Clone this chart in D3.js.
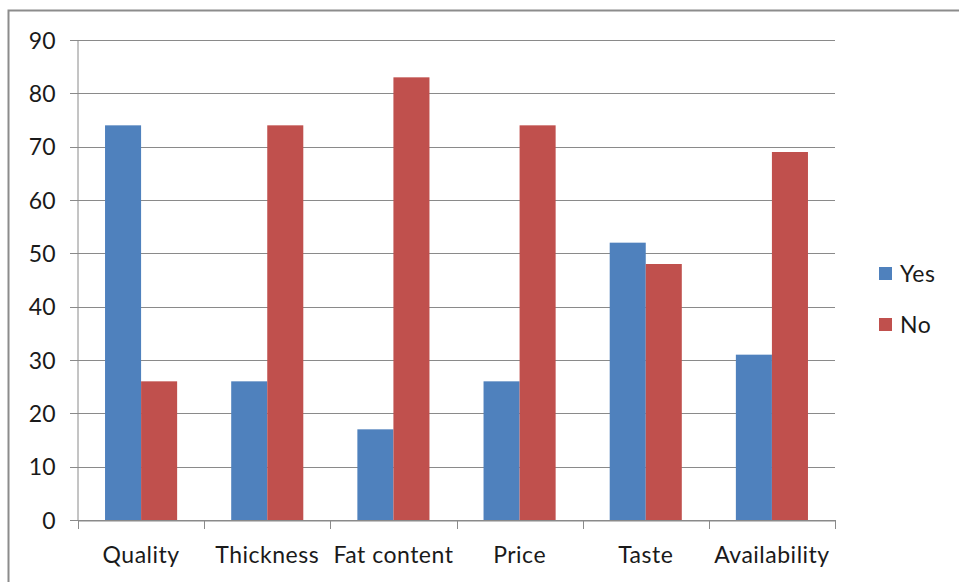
<!DOCTYPE html>
<html>
<head>
<meta charset="utf-8">
<script src="https://cdn.jsdelivr.net/npm/d3@7"></script>
<style>
  html, body { margin: 0; padding: 0; background: #fff; }
  svg { display: block; }
  text { font-family: Lato, "Open Sans", "Liberation Sans", sans-serif; fill: #1a1a1a; }
</style>
</head>
<body>
<svg id="chart" width="959" height="582"></svg>
<script>
const categories = ["Quality", "Thickness", "Fat content", "Price", "Taste", "Availability"];
const seriesNames = ["Yes", "No"];
const yesValues = [74, 26, 17, 26, 52, 31];
const noValues = [26, 74, 83, 74, 48, 69];
const yTicks = [0, 10, 20, 30, 40, 50, 60, 70, 80, 90];
const colors = ["#4F81BD", "#C0504D"];

const FONT = "Lato, 'Open Sans', sans-serif";
const FS = 23;

const svg = d3.select("#chart");
const margin = { left: 78, right: 124, top: 40, bottom: 62 };
const W = 959, H = 582;
const plotR = W - margin.right;
const plotB = H - margin.bottom;

// chart frame
svg.append("rect")
  .attr("x", 8.5).attr("y", 10.5)
  .attr("width", 1000).attr("height", 1000)
  .attr("fill", "none").attr("stroke", "#8c8c8c").attr("stroke-width", 2);

const x = d3.scaleBand().domain(categories).range([margin.left, plotR]).paddingInner(0).paddingOuter(0);
const xInner = d3.scaleBand().domain(seriesNames).range([0, x.bandwidth()]).paddingInner(0).paddingOuter(0.75);
const y = d3.scaleLinear().domain([0, 90]).range([plotB, margin.top]);

// gridlines
svg.append("g").selectAll("line").data(yTicks).join("line")
  .attr("x1", margin.left - 8).attr("x2", plotR)
  .attr("y1", d => Math.round(y(d)) + 0.5).attr("y2", d => Math.round(y(d)) + 0.5)
  .attr("stroke", "#8a8a8a").attr("stroke-width", 1);

// y axis
const yAxis = svg.append("g").attr("transform", `translate(${margin.left - 0.5},0)`)
  .call(d3.axisLeft(y).tickValues(yTicks).tickSize(0).tickPadding(22));
yAxis.select(".domain").attr("stroke", "#8a8a8a");
yAxis.selectAll("text").attr("font-size", FS).attr("dy", "0.36em")
  .style("font-family", FONT).attr("fill", "#1a1a1a");

// bars
const rows = categories.map((c, i) => ({ cat: c, vals: [yesValues[i], noValues[i]] }));
const groups = svg.append("g").selectAll("g").data(rows).join("g")
  .attr("transform", d => `translate(${x(d.cat)},0)`);
groups.selectAll("rect").data(d => d.vals.map((v, j) => ({ v, s: seriesNames[j], j })))
  .join("rect")
  .attr("x", d => xInner(d.s))
  .attr("width", xInner.bandwidth())
  .attr("y", d => y(d.v))
  .attr("height", d => y(0) - y(d.v))
  .attr("fill", d => colors[d.j]);

// x axis
const xAxis = svg.append("g").attr("transform", `translate(0,${Math.round(plotB) + 0.5})`)
  .call(d3.axisBottom(x).tickSize(0).tickPadding(0));
xAxis.select(".domain").attr("stroke", "#8a8a8a");
xAxis.selectAll("text").attr("font-size", FS).attr("y", 42).attr("dy", 0)
  .attr("letter-spacing", 0.5)
  .style("font-family", FONT).attr("fill", "#1a1a1a");
// category boundary ticks
const bounds = categories.map(c => x(c)).concat([x(categories[categories.length - 1]) + x.bandwidth()]);
svg.append("g").selectAll("line").data(bounds).join("line")
  .attr("x1", d => Math.round(d) + 0.5).attr("x2", d => Math.round(d) + 0.5)
  .attr("y1", Math.round(plotB)).attr("y2", Math.round(plotB) + 9)
  .attr("stroke", "#8a8a8a");

// legend
const legend = svg.append("g").attr("transform", "translate(879,267)");
seriesNames.forEach((s, i) => {
  const g = legend.append("g").attr("transform", `translate(0,${i * 51})`);
  g.append("rect").attr("width", 13).attr("height", 13).attr("fill", colors[i]);
  g.append("text").attr("x", 21).attr("y", 15).attr("font-size", FS)
    .attr("letter-spacing", 0.5).text(s);
});
</script>
</body>
</html>
